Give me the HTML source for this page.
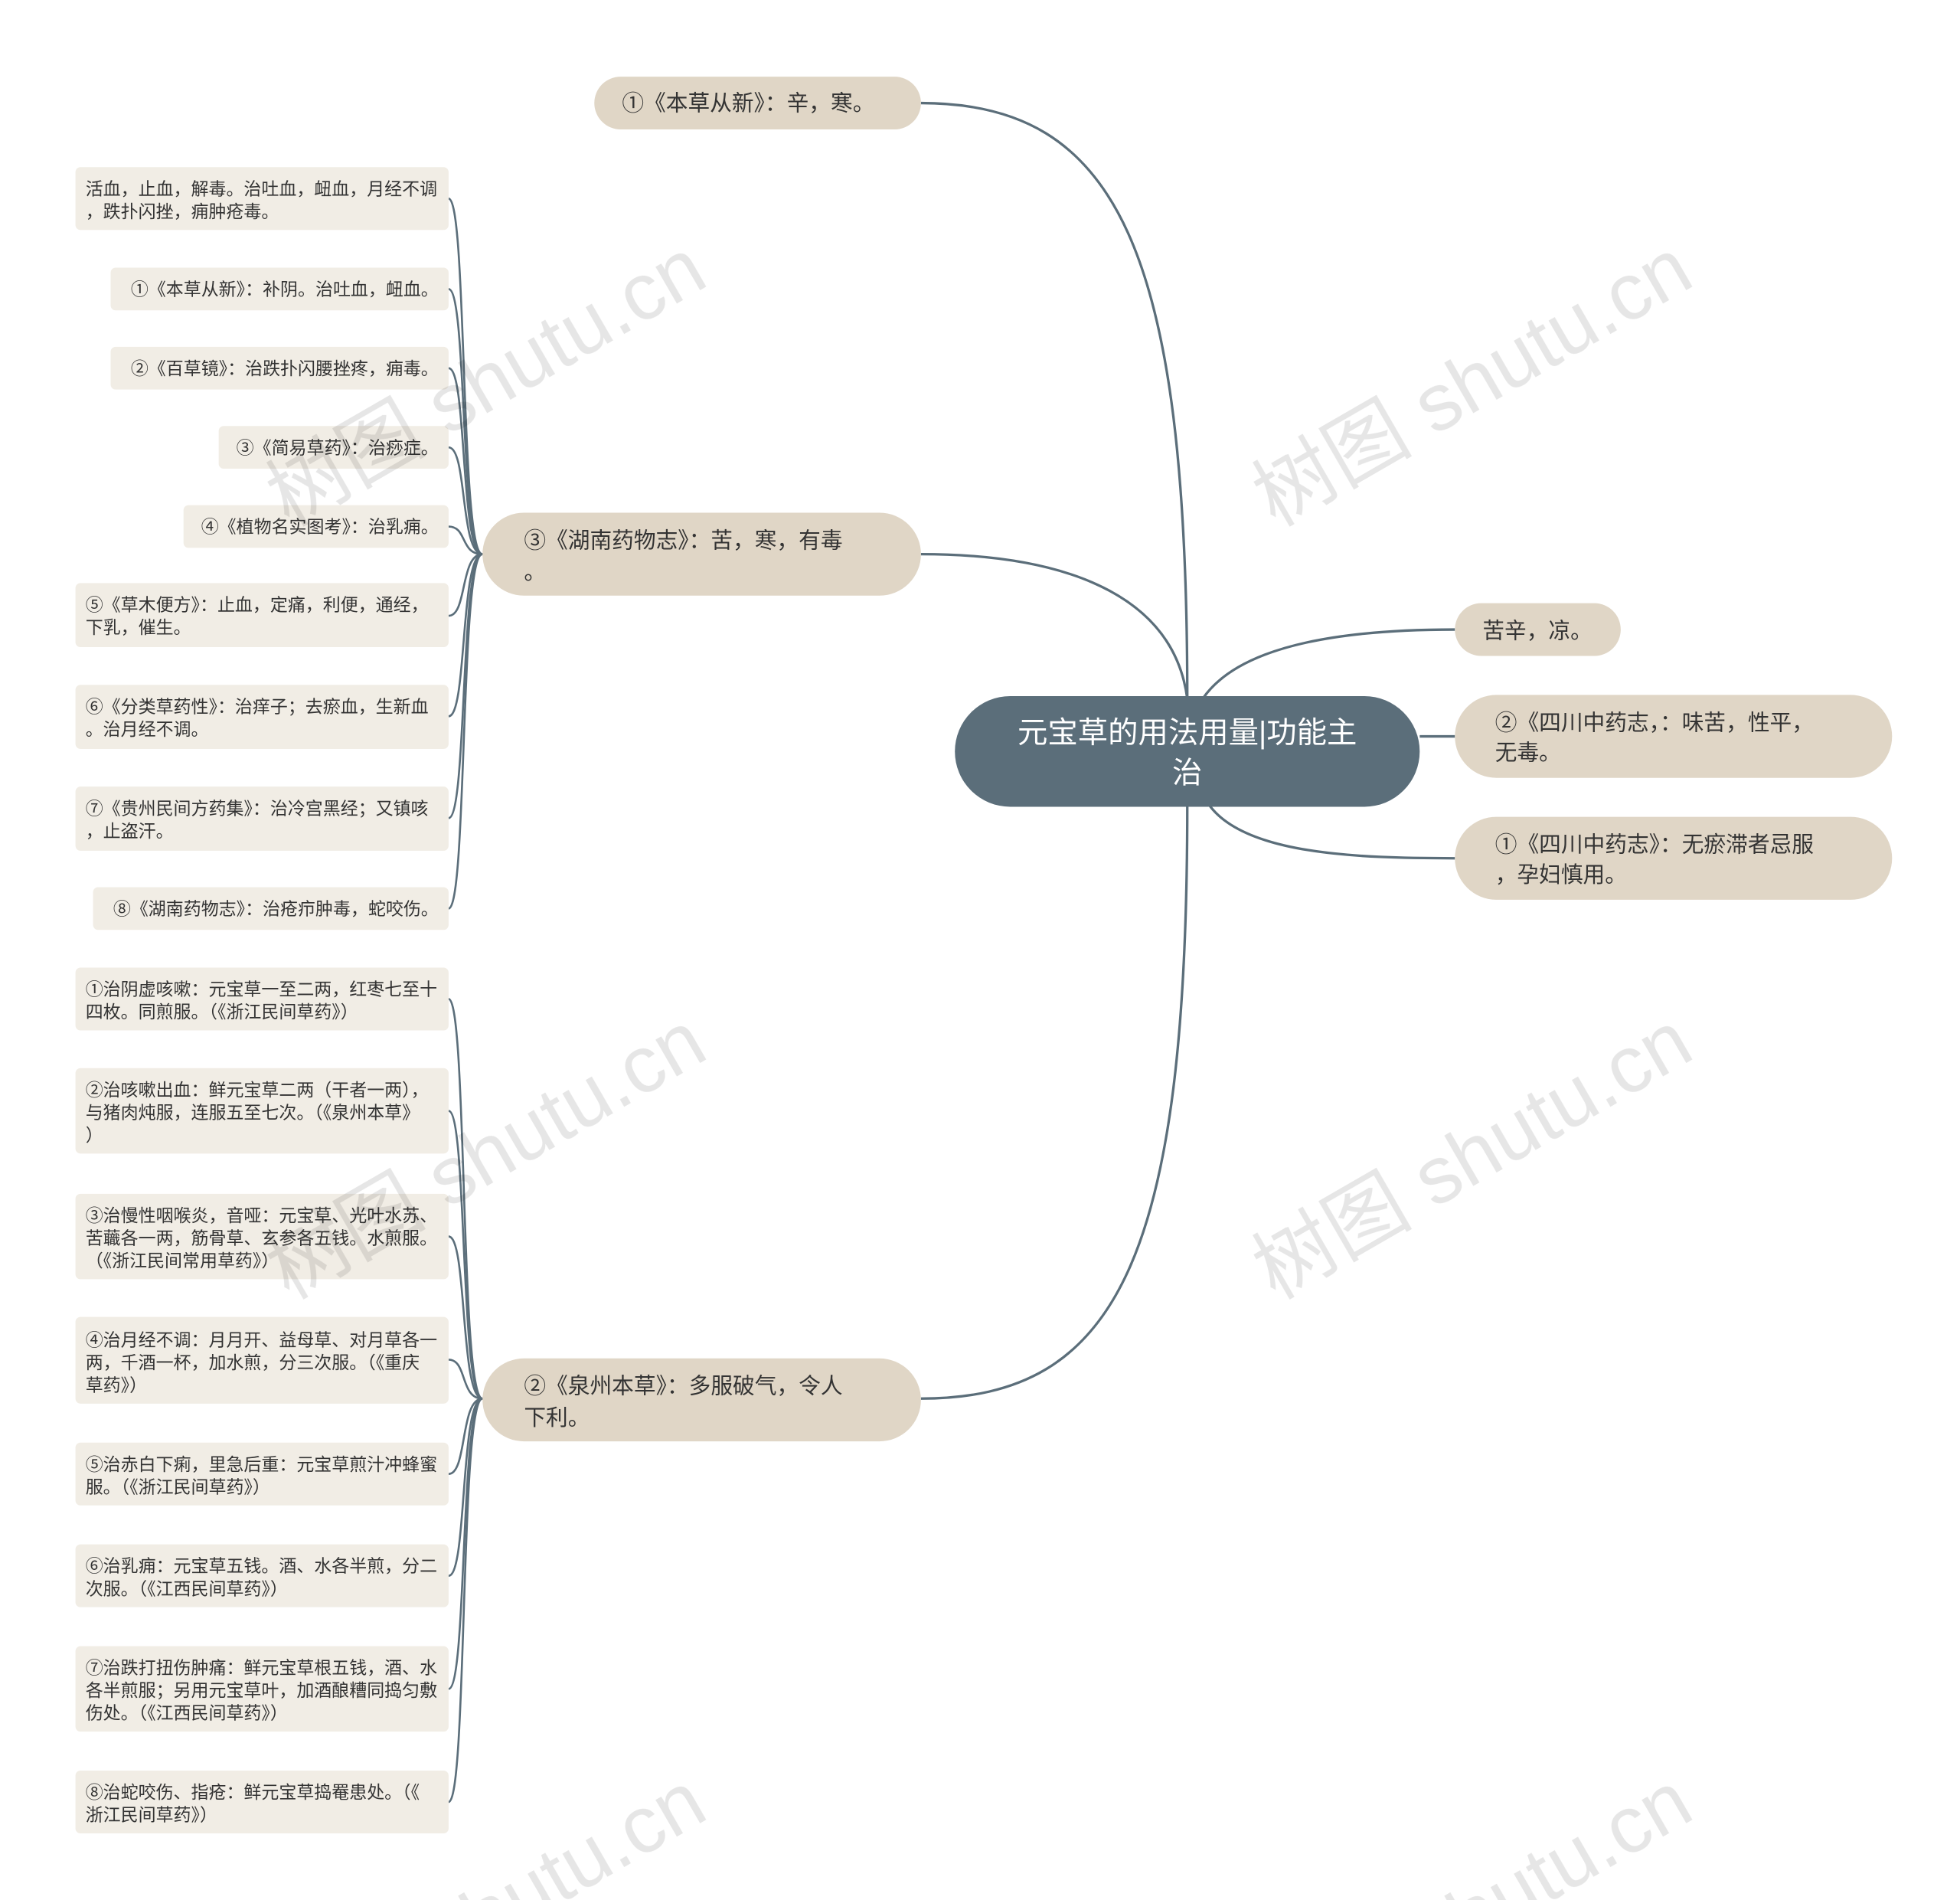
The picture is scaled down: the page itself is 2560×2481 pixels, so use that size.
<!DOCTYPE html>
<html><head><meta charset="utf-8"><style>html,body{margin:0;padding:0;background:#fff;width:2560px;height:2481px;overflow:hidden}svg{display:block}text{font-family:"Liberation Sans","Noto Sans CJK SC",sans-serif}</style></head><body>
<svg width="2560" height="2481" viewBox="0 0 1560 1512" xmlns="http://www.w3.org/2000/svg" overflow="hidden">
<rect width="1560" height="1512" fill="#fff"/>
<g fill="none" stroke="#5b6e7a" stroke-width="2">
<path d="M945,556 C945,200 890,82 733,82"/>
<path d="M945,556 C935,480 860,441 733,441"/>
<path d="M945,640 C945,1000 890,1113 733,1113"/>
<path d="M958,555 C990,510 1080,501 1158,501"/>
<path d="M1130,586 L1158,586"/>
<path d="M962,640 C990,680 1080,683 1158,683"/>
<g stroke-width="1.6">
<path d="M384,441 C366,441 372,158 357,158"/>
<path d="M384,441 C366,441 372,230 357,230"/>
<path d="M384,441 C366,441 372,293 357,293"/>
<path d="M384,441 C366,441 372,356 357,356"/>
<path d="M384,441 C366,441 372,419 357,419"/>
<path d="M384,441 C366,441 372,490 357,490"/>
<path d="M384,441 C366,441 372,570 357,570"/>
<path d="M384,441 C366,441 372,651 357,651"/>
<path d="M384,441 C366,441 372,723 357,723"/>
<path d="M384,1113 C366,1113 372,795 357,795"/>
<path d="M384,1113 C366,1113 372,884 357,884"/>
<path d="M384,1113 C366,1113 372,984 357,984"/>
<path d="M384,1113 C366,1113 372,1082 357,1082"/>
<path d="M384,1113 C366,1113 372,1173 357,1173"/>
<path d="M384,1113 C366,1113 372,1254 357,1254"/>
<path d="M384,1113 C366,1113 372,1344 357,1344"/>
<path d="M384,1113 C366,1113 372,1434 357,1434"/>
</g></g>
<rect x="760" y="554" width="370" height="88" rx="44" fill="#5b6e7a"/>
<text x="945" y="591" font-size="24" fill="#fff" text-anchor="middle">元宝草的用法用量|功能主</text>
<text x="945" y="623" font-size="24" fill="#fff" text-anchor="middle">治</text>
<g fill="#e0d6c6">
<rect x="473" y="61" width="260" height="42" rx="21"/>
<rect x="384" y="408" width="349" height="66" rx="33"/>
<rect x="384" y="1081" width="349" height="66" rx="33"/>
<rect x="1158" y="480" width="132" height="42" rx="21"/>
<rect x="1158" y="553" width="348" height="66" rx="33"/>
<rect x="1158" y="650" width="348" height="66" rx="33"/>
</g>
<g font-size="17.5" fill="#333">
<text x="495" y="88">①《本草从新》：辛，寒。</text>
<text x="417" y="436">③《湖南药物志》：苦，寒，有毒</text><text x="417" y="461">。</text>
<text x="417" y="1109">②《泉州本草》：多服破气，令人</text><text x="417" y="1134">下利。</text>
<text x="1180" y="508">苦辛，凉。</text>
<text x="1190" y="581">②《四川中药志，：味苦，性平，</text><text x="1190" y="605">无毒。</text>
<text x="1190" y="678">①《四川中药志》：无瘀滞者忌服</text><text x="1190" y="702">，孕妇慎用。</text>
</g>
<g fill="#f1ede5">
<rect x="60" y="133" width="297" height="50" rx="4"/>
<rect x="88" y="213" width="269" height="34" rx="4"/>
<rect x="88" y="276" width="269" height="34" rx="4"/>
<rect x="174" y="339" width="183" height="34" rx="4"/>
<rect x="146" y="402" width="211" height="34" rx="4"/>
<rect x="60" y="464" width="297" height="51" rx="4"/>
<rect x="60" y="545" width="297" height="51" rx="4"/>
<rect x="60" y="626" width="297" height="51" rx="4"/>
<rect x="74" y="706" width="283" height="34" rx="4"/>
<rect x="60" y="770" width="297" height="50" rx="4"/>
<rect x="60" y="850" width="297" height="68" rx="4"/>
<rect x="60" y="950" width="297" height="68" rx="4"/>
<rect x="60" y="1048" width="297" height="69" rx="4"/>
<rect x="60" y="1148" width="297" height="50" rx="4"/>
<rect x="60" y="1229" width="297" height="50" rx="4"/>
<rect x="60" y="1310" width="297" height="68" rx="4"/>
<rect x="60" y="1409" width="297" height="50" rx="4"/>
</g>
<g font-size="14" fill="#333">
<text x="68" y="155">活血，止血，解毒。治吐血，衄血，月经不调</text><text x="68" y="173">，跌扑闪挫，痈肿疮毒。</text>
<text x="349" y="235" text-anchor="end">①《本草从新》：补阴。治吐血，衄血。</text>
<text x="349" y="298" text-anchor="end">②《百草镜》：治跌扑闪腰挫疼，痈毒。</text>
<text x="349" y="361" text-anchor="end">③《简易草药》：治痧症。</text>
<text x="349" y="424" text-anchor="end">④《植物名实图考》：治乳痈。</text>
<text x="68" y="486">⑤《草木便方》：止血，定痛，利便，通经，</text><text x="68" y="504">下乳，催生。</text>
<text x="68" y="567">⑥《分类草药性》：治痒子；去瘀血，生新血</text><text x="68" y="585">。治月经不调。</text>
<text x="68" y="648">⑦《贵州民间方药集》：治冷宫黑经；又镇咳</text><text x="68" y="666">，止盗汗。</text>
<text x="349" y="728" text-anchor="end">⑧《湖南药物志》：治疮疖肿毒，蛇咬伤。</text>
<text x="68" y="792">①治阴虚咳嗽：元宝草一至二两，红枣七至十</text><text x="68" y="810">四枚。同煎服。（《浙江民间草药》）</text>
<text x="68" y="872">②治咳嗽出血：鲜元宝草二两（干者一两），</text><text x="68" y="890">与猪肉炖服，连服五至七次。（《泉州本草》</text><text x="68" y="908">）</text>
<text x="68" y="972">③治慢性咽喉炎，音哑：元宝草、光叶水苏、</text><text x="68" y="990">苦蘵各一两，筋骨草、玄参各五钱。水煎服。</text><text x="68" y="1008">（《浙江民间常用草药》）</text>
<text x="68" y="1071">④治月经不调：月月开、益母草、对月草各一</text><text x="68" y="1089">两，千酒一杯，加水煎，分三次服。（《重庆</text><text x="68" y="1107">草药》）</text>
<text x="68" y="1170">⑤治赤白下痢，里急后重：元宝草煎汁冲蜂蜜</text><text x="68" y="1188">服。（《浙江民间草药》）</text>
<text x="68" y="1251">⑥治乳痈：元宝草五钱。酒、水各半煎，分二</text><text x="68" y="1269">次服。（《江西民间草药》）</text>
<text x="68" y="1332">⑦治跌打扭伤肿痛：鲜元宝草根五钱，酒、水</text><text x="68" y="1350">各半煎服；另用元宝草叶，加酒酿糟同捣匀敷</text><text x="68" y="1368">伤处。（《江西民间草药》）</text>
<text x="68" y="1431">⑧治蛇咬伤、指疮：鲜元宝草捣罨患处。（《</text><text x="68" y="1449">浙江民间草药》）</text>
</g>
<g font-size="64" fill="#000" opacity="0.1" font-family="Liberation Serif,Noto Serif CJK SC,serif">
<text transform="translate(230,420) rotate(-30)">树图 shutu.cn</text>
<text transform="translate(1015,420) rotate(-30)">树图 shutu.cn</text>
<text transform="translate(230,1035) rotate(-30)">树图 shutu.cn</text>
<text transform="translate(1015,1035) rotate(-30)">树图 shutu.cn</text>
<text transform="translate(230,1640) rotate(-30)">树图 shutu.cn</text>
<text transform="translate(1015,1640) rotate(-30)">树图 shutu.cn</text>
</g>
</svg>
</body></html>
